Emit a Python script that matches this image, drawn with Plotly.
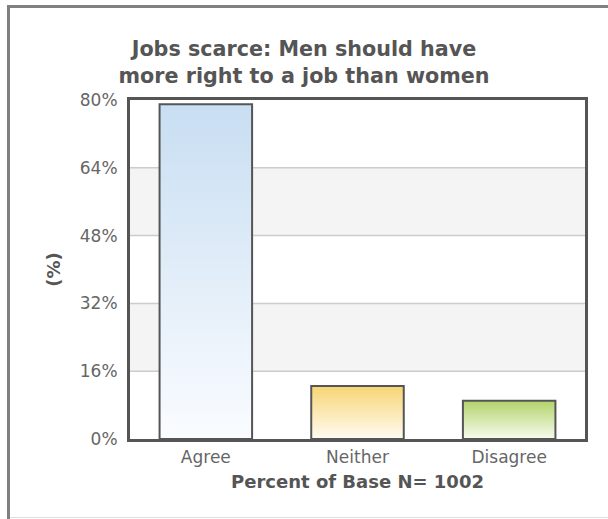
import plotly.graph_objects as go

categories = ["Agree", "Neither", "Disagree"]
values = [79.0, 12.5, 9.0]
top_colors = ["#c8def2", "#f7d574", "#b3d36a"]
bottom_colors = ["#fafcff", "#fffbf2", "#f7fbf0"]
y_ticks = [0, 16, 32, 48, 64, 80]
y_tick_labels = ["0%", "16%", "32%", "48%", "64%", "80%"]
title_text = "Jobs scarce: Men should have<br>more right to a job than women"
x_title = "Percent of Base N= 1002"
y_title = "(%)"

BAR_W = 0.61
FONT = "DejaVu Sans"

fig = go.Figure()

for i, (cat, v) in enumerate(zip(categories, values)):
    x0, x1 = i - BAR_W / 2, i + BAR_W / 2
    fig.add_trace(go.Scatter(
        x=[x0, x0, x1, x1, x0], y=[0, v, v, 0, 0],
        mode="lines", fill="toself",
        fillgradient=dict(type="vertical",
                          colorscale=[[0, bottom_colors[i]], [1, top_colors[i]]]),
        line=dict(color="#555555", width=2),
        name=cat, showlegend=False, hoverinfo="skip",
    ))

shapes = []
for k in range(len(y_ticks) - 1):
    if k % 2 == 1:
        shapes.append(dict(type="rect", xref="paper", yref="y", x0=0, x1=1,
                           y0=y_ticks[k], y1=y_ticks[k + 1],
                           fillcolor="#f4f4f4", line=dict(width=0), layer="below"))
for t in y_ticks[1:-1]:
    shapes.append(dict(type="line", xref="paper", yref="y", x0=0, x1=1, y0=t, y1=t,
                       line=dict(color="#cccccc", width=1.5), layer="below"))

L, R, T, B = 130, 23, 100, 80
W, H = 608, 519
pw, ph = W - L - R, H - T - B
def px(x):
    return (x - L) / pw
def py(y):
    return (H - B - y) / ph
shapes.append(dict(type="line", xref="paper", yref="paper", x0=px(7), x1=px(612),
                   y0=py(6.5), y1=py(6.5), line=dict(color="#808080", width=3)))
shapes.append(dict(type="line", xref="paper", yref="paper", x0=px(8.5), x1=px(8.5),
                   y0=py(5), y1=py(522), line=dict(color="#808080", width=3)))
shapes.append(dict(type="line", xref="paper", yref="paper", x0=px(10), x1=px(612),
                   y0=py(517.5), y1=py(517.5), line=dict(color="#dddddd", width=1)))

fig.update_layout(
    width=W, height=H,
    margin=dict(l=L, r=R, t=T, b=B, pad=0),
    paper_bgcolor="white", plot_bgcolor="white",
    font=dict(family=FONT, color="#666666", size=17),
    title=dict(text=title_text, x=0.5, xref="container", xanchor="center",
               y=1 - 56 / H, yanchor="middle", yref="container",
               font=dict(family=FONT, size=20.7, color="#555555", weight="bold")),
    shapes=shapes,
    showlegend=False,
    xaxis=dict(range=[-0.5, 2.5], tickvals=list(range(len(categories))),
               ticktext=categories, showgrid=False, zeroline=False,
               showline=True, mirror=True, linecolor="#555555", linewidth=3,
               ticks="", tickfont=dict(size=17, color="#666666"),
               ticklabelstandoff=1,
               title=dict(text=x_title, standoff=9,
                          font=dict(size=18, color="#555555", weight="bold")),
               fixedrange=True),
    yaxis=dict(range=[0, 80], tickvals=y_ticks, ticktext=y_tick_labels,
               showgrid=False, zeroline=False,
               showline=True, mirror=True, linecolor="#555555", linewidth=3,
               ticks="", tickfont=dict(size=17, color="#666666"),
               ticklabelstandoff=6,
               title=dict(text=y_title, standoff=15,
                          font=dict(size=18, color="#555555", weight="bold")),
               fixedrange=True),
)

fig.write_html("out.html", config={"displayModeBar": False},
               post_script="document.body.style.margin='0px';")
